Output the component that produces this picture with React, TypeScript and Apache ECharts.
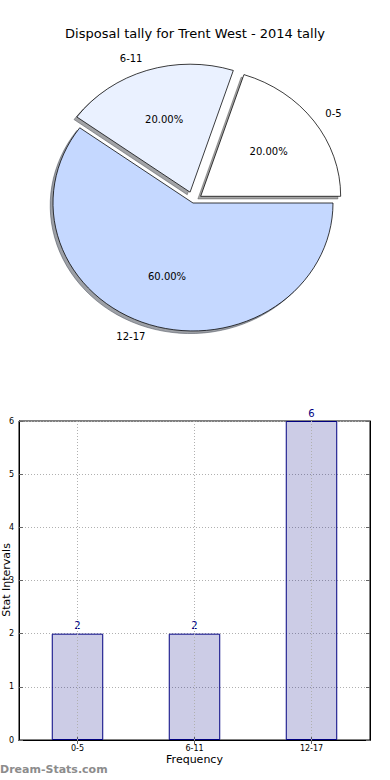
import React, { useEffect, useRef } from "react";
import * as echarts from "echarts";

const titleText = "Disposal tally for Trent West - 2014 tally";
const pieLabels = ["0-5", "6-11", "12-17"];
const pieValues = [2, 2, 6];
const pieColors = ["#ffffff", "#eaf1ff", "#c5d8ff"];
const pieExplode = [1, 1, 0];

const categories = ["0-5", "6-11", "12-17"];
const barValues = [2, 2, 6];
const yMin = 0;
const yMax = 6;
const yStep = 1;
const xName = "Frequency";
const yName = "Stat Intervals";
const watermark = "Dream-Stats.com";

const FONT = "DejaVu Sans";

function darken(hex: string) {
  const n = parseInt(hex.slice(1), 16);
  const r = Math.round(((n >> 16) & 255) * 0.3);
  const g = Math.round(((n >> 8) & 255) * 0.3);
  const b = Math.round((n & 255) * 0.3);
  return `rgba(${r},${g},${b},0.5)`;
}

export default function App() {
  const ref = useRef<HTMLDivElement>(null);
  useEffect(() => {
    if (!ref.current) return;
    const chart = echarts.init(ref.current, null, { renderer: "svg" });
    const cx = 193;
    const cy = 203;
    const rx = 140;
    const ry = 128;
    const explodeDist = 9.5;
    const total = pieValues.reduce((a, b) => a + b, 0);

    const renderPie = (params: any, api: any) => {
      const i = params.dataIndex;
      const v = api.value(0);
      const before = pieValues.slice(0, i).reduce((a, b) => a + b, 0);
      const a0 = (before / total) * Math.PI * 2;
      const a1 = ((before + v) / total) * Math.PI * 2;
      const mid = (a0 + a1) / 2;
      const d = pieExplode[i] * explodeDist;
      const ox = cx + d * Math.cos(mid);
      const oy = cy - d * Math.sin(mid) * 1.2;
      const shape = {
        cx: 0,
        cy: 0,
        r: rx,
        r0: 0,
        startAngle: -a1,
        endAngle: -a0,
        clockwise: true,
      };
      const cosM = Math.cos(mid);
      const sinM = Math.sin(mid);
      return {
        type: "group",
        children: [
          {
            type: "group",
            x: ox - 2.8,
            y: oy + 2.6,
            scaleY: ry / rx,
            children: [
              {
                type: "sector",
                shape,
                z2: 0,
                style: {
                  fill: darken(pieColors[i]),
                  stroke: darken(pieColors[i]),
                  lineWidth: 1,
                  strokeNoScale: true,
                },
              },
            ],
          },
          {
            type: "group",
            x: ox,
            y: oy,
            scaleY: ry / rx,
            children: [
              {
                type: "sector",
                shape,
                z2: 10,
                style: {
                  fill: pieColors[i],
                  stroke: "#000",
                  lineWidth: 0.8,
                  strokeNoScale: true,
                },
              },
            ],
          },
          {
            type: "text",
            x: ox + 1.1 * rx * cosM,
            y: oy - 1.1 * ry * sinM,
            z2: 20,
            style: {
              text: pieLabels[i],
              fontSize: 10,
              fontFamily: FONT,
              fill: "#000",
              align: cosM >= 0 ? "left" : "right",
              verticalAlign: "middle",
            },
          },
          {
            type: "text",
            x: ox + 0.6 * rx * cosM,
            y: oy - 0.6 * ry * sinM,
            z2: 20,
            style: {
              text: ((v / total) * 100).toFixed(2) + "%",
              fontSize: 10,
              fontFamily: FONT,
              fill: "#000",
              align: "center",
              verticalAlign: "middle",
            },
          },
        ],
      };
    };

    const gridLine = { color: "#b0b0b0", type: [1, 2] as any, width: 1 };

    chart.setOption({
      animation: false,
      textStyle: { fontFamily: FONT },
      title: {
        text: titleText,
        left: "center",
        top: 22,
        textStyle: { fontSize: 13, fontWeight: "normal", color: "#000", fontFamily: FONT },
      },
      grid: {
        left: 19,
        right: 20,
        top: 421,
        bottom: 40,
        containLabel: false,
        outerBoundsMode: "none",
        show: true,
        borderColor: "#000",
        borderWidth: 1,
        backgroundColor: "transparent",
      },
      xAxis: [
        {
          type: "category",
          data: categories,
          position: "bottom",
          axisLine: { show: true, lineStyle: { color: "#000", width: 1 } },
          axisTick: { show: true, inside: true, alignWithLabel: true, length: 4, lineStyle: { color: "#666" } },
          axisLabel: { fontSize: 8, color: "#000", margin: 4, fontFamily: FONT },
          splitLine: { show: false },
          name: xName,
          nameLocation: "middle",
          nameGap: 14,
          nameTextStyle: { fontSize: 11, color: "#000", fontFamily: FONT },
        },
        {
          type: "category",
          data: categories,
          position: "top",
          axisLine: { show: true, lineStyle: { color: "#000", width: 1 } },
          axisTick: { show: true, inside: true, alignWithLabel: true, length: 4, lineStyle: { color: "#666" } },
          axisLabel: { show: false },
          splitLine: { show: false },
        },
      ],
      yAxis: [
        {
          type: "value",
          min: yMin,
          max: yMax,
          interval: yStep,
          position: "left",
          axisLine: { show: true, lineStyle: { color: "#000", width: 1 } },
          axisTick: { show: true, inside: true, length: 4, lineStyle: { color: "#666" } },
          axisLabel: { fontSize: 8, color: "#000", margin: 5, fontFamily: FONT },
          splitLine: { show: true, lineStyle: gridLine },
        },
        {
          type: "value",
          min: yMin,
          max: yMax,
          interval: yStep,
          position: "right",
          axisLine: { show: true, lineStyle: { color: "#000", width: 1 } },
          axisTick: { show: true, inside: true, length: 4, lineStyle: { color: "#666" } },
          axisLabel: { show: false },
          splitLine: { show: false },
        },
      ],
      graphic: [
        {
          type: "text",
          x: 6.5,
          y: 580,
          rotation: Math.PI / 2,
          style: {
            text: yName,
            fontSize: 11,
            fontFamily: FONT,
            fill: "#000",
            align: "center",
            verticalAlign: "middle",
          },
        },
        {
          type: "text",
          left: 0,
          top: 764,
          style: {
            text: watermark,
            fontSize: 11,
            fontWeight: "bold",
            fontFamily: FONT,
            fill: "#8c8c8c",
          },
        },
      ],
      series: [
        {
          type: "bar",
          xAxisIndex: 0,
          yAxisIndex: 0,
          data: barValues,
          barWidth: "44%",
          itemStyle: { color: "rgba(0,0,128,0.2)", borderColor: "#000080", borderWidth: 1 },
          label: { show: true, position: "top", distance: 3, fontSize: 10, color: "#000080", fontFamily: FONT },
          markLine: {
            silent: true,
            symbol: "none",
            label: { show: false },
            lineStyle: gridLine,
            data: categories.map((c) => ({ xAxis: c })),
          },
        },
        {
          type: "custom",
          coordinateSystem: "none",
          data: pieValues.map((v) => [v]),
          renderItem: renderPie,
          silent: true,
        },
      ],
    });
    return () => chart.dispose();
  }, []);
  return (
    <div
      ref={ref}
      style={{ position: "absolute", left: 0, top: 0, width: 390, height: 780, background: "#fff" }}
    />
  );
}
